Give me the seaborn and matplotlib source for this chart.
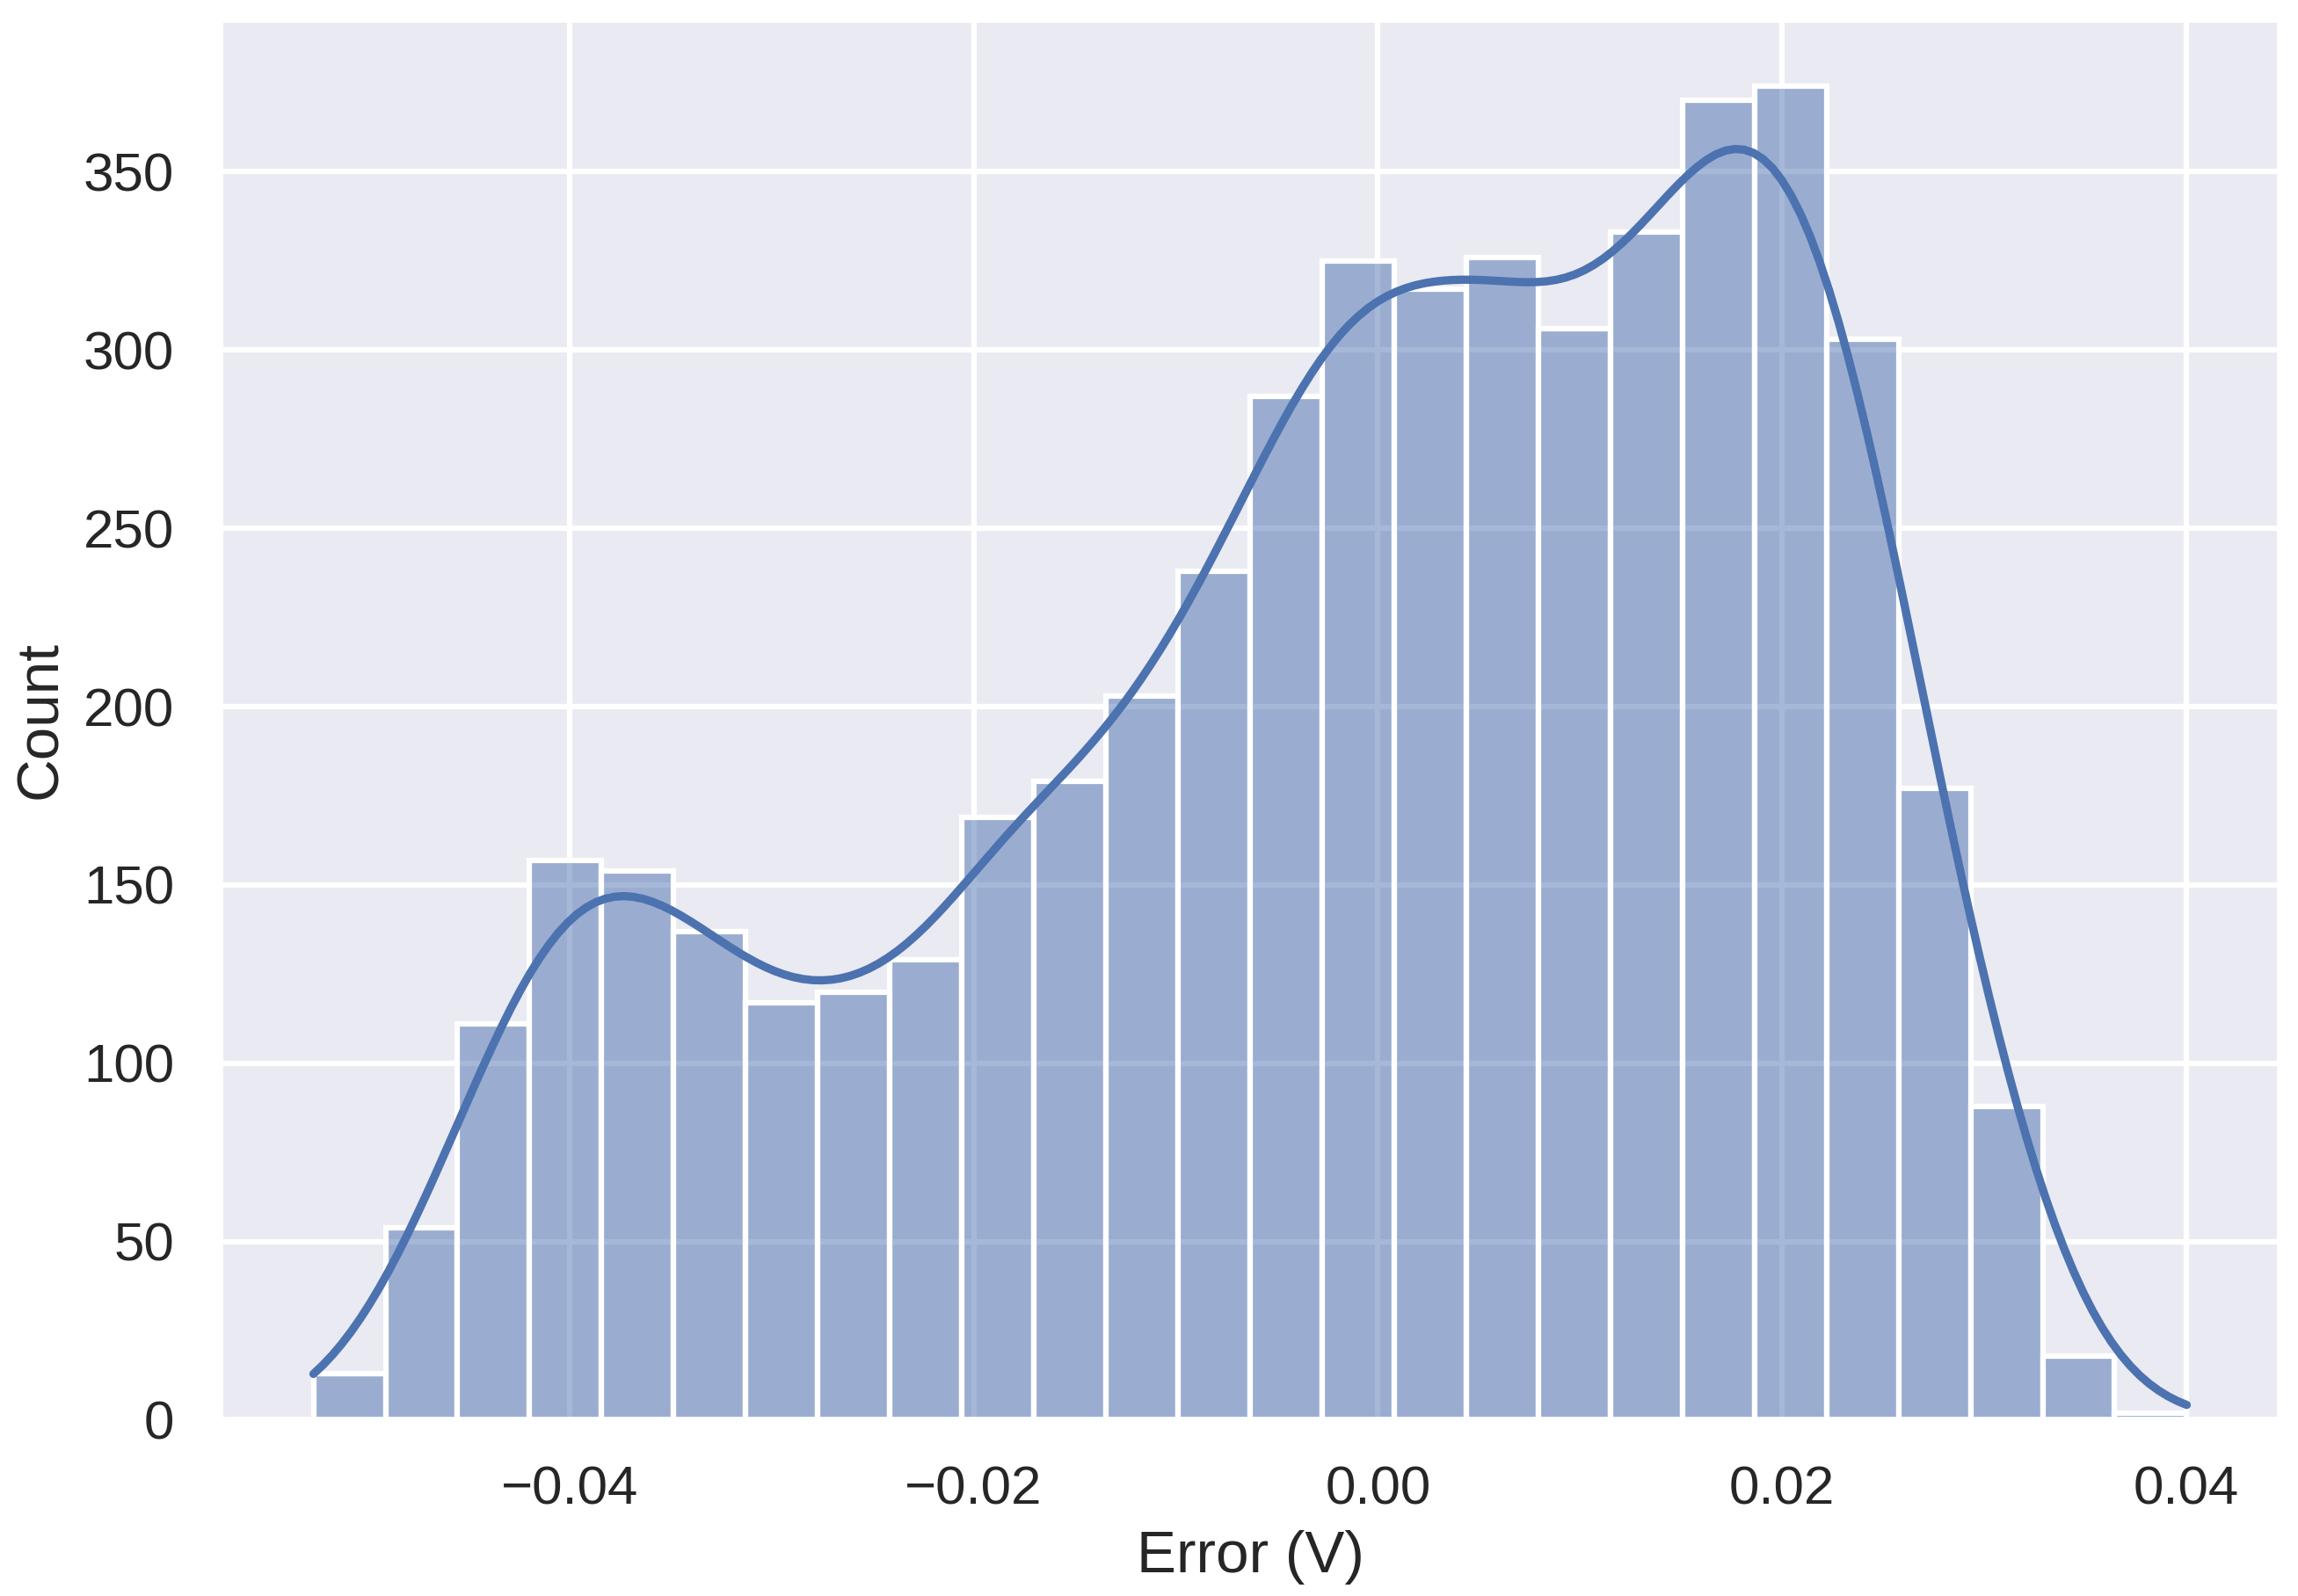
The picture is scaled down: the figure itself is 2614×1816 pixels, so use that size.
import numpy as np
import pandas as pd
import matplotlib
matplotlib.use("Agg")
import matplotlib.pyplot as plt
import seaborn as sns

# ---- data ----
bin_lo = -0.05267          # left edge of first bin (V)
bin_hi = 0.04003           # right edge of last bin (V)
counts = [13, 54, 111, 157, 154, 137, 117, 120, 129, 169, 179, 203, 238,
          287, 325, 317, 326, 306, 333, 370, 374, 303, 177, 88, 18, 2]
x_label = "Error (V)"
y_label = "Count"

n_bins = len(counts)
edges = np.linspace(bin_lo, bin_hi, n_bins + 1)
centers = (edges[:-1] + edges[1:]) / 2

# weighted observations (bin centres) plus zero-weight range end points
df = pd.DataFrame({
    "err": np.concatenate([[bin_lo], centers, [bin_hi]]),
    "w": np.concatenate([[0.0], np.asarray(counts, float), [0.0]]),
})

# effective sample size of the weighted data vs the true sample size,
# so the KDE bandwidth approximates Scott's rule on the raw observations
w = df["w"].to_numpy()
neff = w.sum() ** 2 / (w ** 2).sum()
bw_adj = 0.88 * (w.sum() ** (-0.2)) / (neff ** (-0.2))

sns.set_theme(context="talk", style="darkgrid", font_scale=0.9)
plt.rcParams["font.family"] = ["Liberation Sans", "DejaVu Sans"]

fig = plt.figure(figsize=(2614 / 300, 1816 / 300), dpi=300)
ax = fig.add_axes([250 / 2614, 1 - 1615.7 / 1816,
                   (2594 - 250) / 2614, (1615.7 - 22) / 1816])

sns.histplot(data=df, x="err", weights="w", bins=n_bins, kde=True,
             kde_kws={"bw_adjust": bw_adj}, ax=ax)
ax.set_xlabel(x_label)
ax.set_ylabel(y_label)

fig.savefig("out.png", dpi=300)
